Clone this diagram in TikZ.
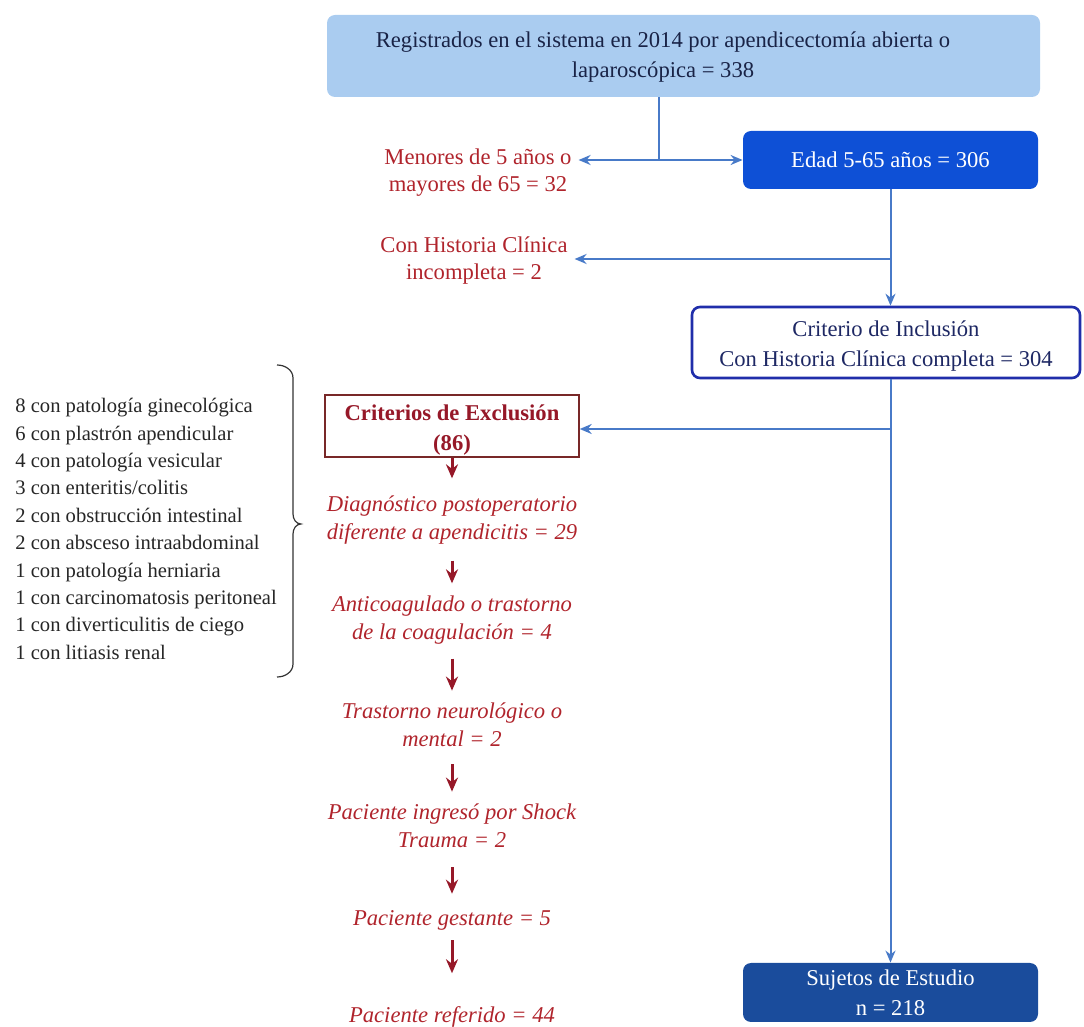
\documentclass[tikz,border=0pt]{standalone}
\usepackage{fontspec}
\setmainfont{Liberation Serif}
\usetikzlibrary{arrows.meta,positioning,calc}

\definecolor{cajaclara}{RGB}{170,204,240}
\definecolor{azulfuerte}{RGB}{14,80,214}
\definecolor{azulosc}{RGB}{26,76,156}
\definecolor{flechaazul}{RGB}{72,122,200}
\definecolor{bordeincl}{RGB}{32,46,170}
\definecolor{textoincl}{RGB}{30,40,100}
\definecolor{rojotxt}{RGB}{176,36,44}
\definecolor{rojoosc}{RGB}{150,24,40}
\definecolor{bordeexcl}{RGB}{120,40,40}
\definecolor{textonavy}{RGB}{25,35,70}

\begin{document}
\begin{tikzpicture}[
    x=0.5pt, y=-0.5pt,
    box/.style={rectangle, rounded corners=4pt, align=center, inner sep=0pt, font=\fontsize{11.3}{15}\selectfont},
    solid box/.style={box, text=white},
    redtext/.style={align=center, text=rojotxt, font=\fontsize{11.3}{13.5}\selectfont},
    excitem/.style={align=center, inner sep=2pt, text=rojotxt, font=\fontsize{11.3}{14}\itshape\selectfont},
    lista/.style={align=left, inner sep=0pt, text=black!85, font=\fontsize{10.3}{13.7}\selectfont},
    bluearrow/.style={-{Stealth[length=6pt,width=5pt]}, draw=flechaazul, line width=1pt},
    blueline/.style={draw=flechaazul, line width=1pt},
    redarrow/.style={-{Stealth[length=7pt,width=6pt]}, draw=rojoosc, line width=1.5pt}
]
\useasboundingbox (0,0) rectangle (1084,1027);

% Registro inicial
\node[box, fill=cajaclara, minimum width=356.5pt, minimum height=41pt] (top) at (683.5,56) {};
\node[box, text=textonavy] (toptxt) at (663,57) {Registrados en el sistema en 2014 por apendicectomía abierta o\\laparoscópica = 338};

% Filtro de edad
\node[solid box, fill=azulfuerte, minimum width=147.5pt, minimum height=29pt] (edad) at (890.5,160) {Edad 5-65 años = 306};
\node[redtext] (menores) at (478,173) {Menores de 5 años o\\mayores de 65 = 32};
\coordinate (split1) at (659,160);
\draw[blueline] (top.south -| split1) -- (split1);
\draw[bluearrow] (split1) -- (edad.west);
\draw[bluearrow] (split1) -- (split1 -| menores.east);

% Historia clinica
\node[box, draw=bordeincl, line width=1.3pt, fill=white, text=textoincl, minimum width=194pt, minimum height=35.5pt] (incl) at (886,342.5) {\rule{0pt}{11pt}Criterio de Inclusión\\Con Historia Clínica completa = 304};
\node[redtext] (incomp) at (474,261) {Con Historia Clínica\\incompleta = 2};
\coordinate (split2) at (890.5,259);
\draw[bluearrow] (edad.south) -- (edad.south |- incl.north);
\draw[bluearrow] (split2) -- (split2 -| incomp.east);

% Sujetos de estudio
\node[solid box, fill=azulosc, minimum width=147.5pt, minimum height=29.5pt] (sujetos) at (890.5,992.5) {Sujetos de Estudio\\n = 218};
\draw[bluearrow] (sujetos.north |- incl.south) -- (sujetos.north);

% Criterios de exclusion
\node[rectangle, draw=bordeexcl, line width=0.7pt, fill=white, align=center, inner sep=0pt, text=rojoosc,
      font=\fontsize{11.3}{15}\bfseries\selectfont, minimum width=127pt, minimum height=31pt] (excl) at (452,426) {\rule{0pt}{12pt}Criterios de Exclusión\\(86)};
\coordinate (split3) at (890.5,429);
\draw[bluearrow] (split3) -- (split3 -| excl.east);

\foreach \n/\y/\txt in {
    c1/520/{Diagnóstico postoperatorio\\diferente a apendicitis = 29},
    c2/620/{Anticoagulado o trastorno\\de la coagulación = 4},
    c3/725/{Trastorno neurológico o\\mental = 2},
    c4/826/{Paciente ingresó por Shock\\Trauma = 2},
    c5/920/{Paciente gestante = 5},
    c6/1017/{Paciente referido = 44}} {
    \node[excitem] (\n) at (452,\y) {\txt};
}
\foreach \a/\b/\s/\e in {excl/c1/0/6.5, c1/c2/6/4, c2/c3/5/4, c3/c4/6.5/4, c4/c5/7.5/6, c5/c6/3/14.5} {
    \draw[redarrow, shorten <=\s pt, shorten >=\e pt] (\a) -- (\b);
}

% Desglose del diagnostico
\node[lista, anchor=north west] (lista) at (15,398) {8 con patología ginecológica\\6 con plastrón apendicular\\4 con patología vesicular\\3 con enteritis/colitis\\2 con obstrucción intestinal\\2 con absceso intraabdominal\\1 con patología herniaria\\1 con carcinomatosis peritoneal\\1 con diverticulitis de ciego\\1 con litiasis renal};
\draw[black!80, line width=0.6pt] (277,365) to[out=0, in=90] (293,378) -- (293,514) to[out=-90, in=180] (301,524)
    to[out=180, in=90] (293,534) -- (293,664) to[out=-90, in=0] (277,677);

\end{tikzpicture}
\end{document}
